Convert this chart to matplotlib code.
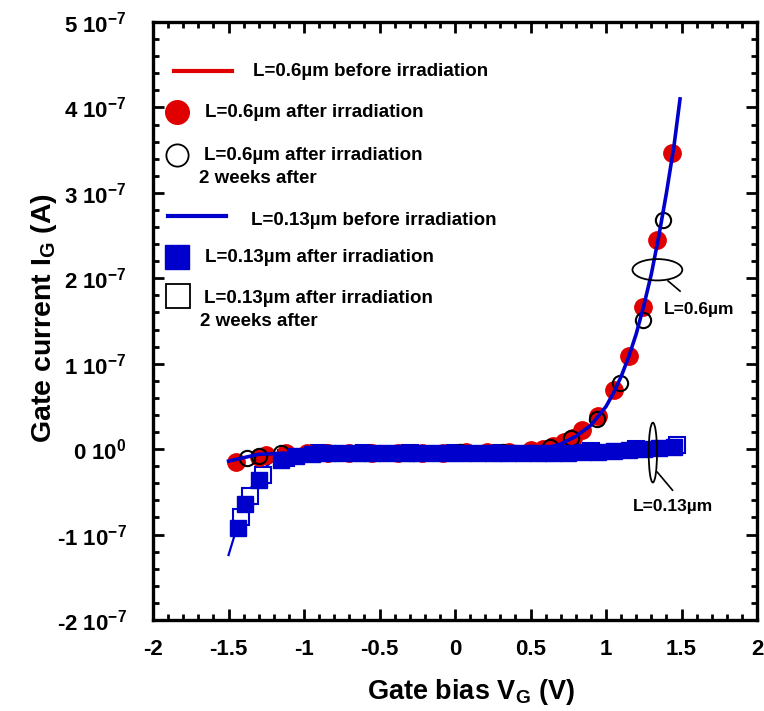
import numpy as np
import matplotlib
matplotlib.use('Agg')
from matplotlib import pyplot as plt
from matplotlib.patches import Ellipse
from matplotlib.ticker import MultipleLocator, FixedLocator, FixedFormatter

plt.rcParams['font.family'] = ['Liberation Sans', 'DejaVu Sans']
plt.rcParams['font.weight'] = 'bold'
plt.rcParams['mathtext.fontset'] = 'custom'
plt.rcParams['mathtext.rm'] = 'Liberation Sans:bold'
plt.rcParams['mathtext.bf'] = 'Liberation Sans:bold'
plt.rcParams['mathtext.default'] = 'bf'

RED = '#e00000'
BLUE = '#0000cc'
SCALE = 1e-7

# L=0.6um, curva antes da irradiacao (unidades de 1e-7 A)
v06_pre = [-1.5, -1.3, -1.0, -0.5, 0.0, 0.5, 0.6, 0.7, 0.8, 0.9, 1.0, 1.05, 1.1, 1.15,
           1.2, 1.25, 1.3, 1.35, 1.4, 1.45, 1.49]
i06_pre = [-0.14, -0.06, -0.04, -0.03, -0.03, -0.01, 0.01, 0.06, 0.15, 0.28, 0.5, 0.66,
           0.85, 1.08, 1.35, 1.68, 2.05, 2.5, 3.0, 3.55, 4.1]

# L=0.6um depois da irradiacao
v06_irr = [-1.45, -1.30, -1.25, -1.12, -0.98, -0.84, -0.70, -0.55, -0.38, -0.22, -0.08,
           0.07, 0.21, 0.36, 0.50, 0.58, 0.65, 0.72, 0.78, 0.84, 0.95, 1.05, 1.15, 1.245,
           1.34, 1.44]
i06_irr = [-0.15, -0.09, -0.07, -0.05, -0.04, -0.04, -0.04, -0.04, -0.04, -0.04, -0.04,
           -0.03, -0.03, -0.03, -0.01, 0.0, 0.04, 0.08, 0.13, 0.23, 0.39, 0.69, 1.09, 1.66,
           2.45, 3.47]

# L=0.6um, 2 semanas depois
v06_2w = [-1.38, -1.30, -1.15, -0.85, -0.56, -0.28, 0.03, 0.32, 0.63, 0.77, 0.94, 1.09,
          1.245, 1.38]
i06_2w = [-0.10, -0.08, -0.05, -0.04, -0.04, -0.04, -0.03, -0.03, 0.02, 0.13, 0.35, 0.77,
          1.51, 2.68]

# L=0.13um antes da irradiacao
v13_pre = [-1.5, -1.45, -1.4, -1.35, -1.3, -1.25, -1.2, -1.1, -1.0, -0.5, 0.0, 0.5, 1.0,
           1.5]
i13_pre = [-1.24, -0.95, -0.65, -0.45, -0.30, -0.20, -0.13, -0.07, -0.05, -0.04, -0.04,
           -0.03, -0.01, 0.03]

# L=0.13um depois da irradiacao
v13_irr = [-1.44, -1.39, -1.30, -1.15, -1.05, -0.95, -0.85, -0.75, -0.65, -0.55, -0.45,
           -0.35, -0.25, -0.15, -0.05, 0.05, 0.15, 0.25, 0.35, 0.45, 0.55, 0.65, 0.75,
           0.85, 0.95, 1.05, 1.15, 1.25, 1.35, 1.45]
i13_irr = [-0.92, -0.64, -0.36, -0.13, -0.08, -0.06, -0.05, -0.05, -0.05, -0.05, -0.05,
           -0.05, -0.05, -0.05, -0.05, -0.05, -0.05, -0.05, -0.05, -0.05, -0.05, -0.04,
           -0.04, -0.03, -0.03, -0.02, -0.01, 0.0, 0.01, 0.02]

# L=0.13um, 2 semanas depois (com barras de erro)
v13_2w = [-1.42, -1.36, -1.27, -1.12, -0.90, -0.60, -0.30, 0.0, 0.30, 0.60, 0.90, 1.20,
          1.47]
i13_2w = [-0.80, -0.55, -0.30, -0.10, -0.05, -0.05, -0.05, -0.05, -0.05, -0.04, -0.02,
          0.0, 0.05]
e13_2w = [0.08, 0.08, 0.08, 0.06, 0.06, 0.06, 0.06, 0.06, 0.06, 0.06, 0.06, 0.06, 0.08]

y_ticks = [-2, -1, 0, 1, 2, 3, 4, 5]
y_labels = ['-2 10$^{-7}$', '-1 10$^{-7}$', '0 10$^{0}$', '1 10$^{-7}$', '2 10$^{-7}$',
            '3 10$^{-7}$', '4 10$^{-7}$', '5 10$^{-7}$']
x_ticks = [-2, -1.5, -1, -0.5, 0, 0.5, 1, 1.5, 2]
x_labels = ['-2', '-1.5', '-1', '-0.5', '0', '0.5', '1', '1.5', '2']


def a(lst):
    return np.array(lst) * SCALE


fig = plt.figure(figsize=(7.64, 7.11), dpi=100)
ax = fig.add_axes([0.2003, 0.128, 0.7906, 0.841])

ax.plot(v13_pre, a(i13_pre), color=BLUE, lw=1.6, zorder=2)
ax.errorbar(v13_2w, a(i13_2w), yerr=a(e13_2w), fmt='s', ms=12, mfc='white', mec=BLUE,
            mew=1.5, ecolor=BLUE, elinewidth=1.3, capsize=5, capthick=1.3, zorder=3)
ax.plot(v06_irr, a(i06_irr), 'o', ms=12.5, color=RED, mec=RED, zorder=4)
ax.plot(v06_2w, a(i06_2w), 'o', ms=11, mfc='none', mec='black', mew=1.5, zorder=5)
ax.plot(v13_irr, a(i13_irr), 's', ms=12, color=BLUE, mec=BLUE, zorder=6)
ax.plot(v06_pre, a(i06_pre), color=BLUE, lw=2.6, zorder=7)

ax.set_xlim(-2, 2)
ax.set_ylim(-2 * SCALE, 5 * SCALE)

ax.xaxis.set_major_locator(FixedLocator(x_ticks))
ax.xaxis.set_major_formatter(FixedFormatter(x_labels))
ax.xaxis.set_minor_locator(MultipleLocator(0.1))
ax.yaxis.set_major_locator(FixedLocator([t * SCALE for t in y_ticks]))
ax.yaxis.set_major_formatter(FixedFormatter(y_labels))
ax.yaxis.set_minor_locator(MultipleLocator(0.2 * SCALE))

ax.tick_params(which='both', direction='in', top=True, right=True, width=2)
ax.tick_params(which='major', length=8, labelsize=16)
ax.tick_params(axis='x', which='major', pad=14)
ax.tick_params(axis='y', which='major', pad=19)
ax.tick_params(which='minor', length=4)
for lab in ax.get_xticklabels() + ax.get_yticklabels():
    lab.set_fontweight('bold')
for sp in ax.spines.values():
    sp.set_linewidth(2.4)

ax.set_xlabel('Gate bias V$_{G}$ (V)', fontsize=19.5, fontweight='bold')
ax.set_ylabel('Gate current I$_{G}$ (A)', fontsize=20.5, fontweight='bold')
ax.xaxis.set_label_coords(0.526, -0.095)
ax.yaxis.set_label_coords(-0.155, 0.505)

# elipses indicando cada comprimento de canal
ax.add_patch(Ellipse((1.34, 2.10 * SCALE), 0.33, 0.25 * SCALE, fill=False, ec='black',
                     lw=1.3, zorder=8))
ax.plot([1.41, 1.49], [1.97 * SCALE, 1.85 * SCALE], color='black', lw=1.2, zorder=8)
ax.text(1.38, 1.64 * SCALE, 'L=0.6µm', fontsize=12.5, fontweight='bold', va='center')

ax.add_patch(Ellipse((1.31, -0.04 * SCALE), 0.055, 0.70 * SCALE, fill=False, ec='black',
                     lw=1.3, zorder=8))
ax.plot([1.34, 1.44], [-0.27 * SCALE, -0.48 * SCALE], color='black', lw=1.2, zorder=8)
ax.text(1.18, -0.67 * SCALE, 'L=0.13µm', fontsize=12.5, fontweight='bold', va='center')

# legenda desenhada a mao
def px(x, y):
    return ((x - 153) / 604, (620 - y) / 598)

tr = ax.transAxes
fs = 13.5
x0, y0 = px(174, 71); x1, _ = px(232, 71)
ax.plot([x0, x1], [y0, y0], color=RED, lw=3, transform=tr)
ax.text(*px(253, 71), 'L=0.6µm before irradiation', transform=tr, fontsize=fs, va='center')

ax.plot(*px(177, 112), 'o', ms=17, color=RED, transform=tr)
ax.text(*px(205, 112), 'L=0.6µm after irradiation', transform=tr, fontsize=fs, va='center')

ax.plot(*px(177, 155), 'o', ms=16, mfc='white', mec='black', mew=1.3, transform=tr)
ax.text(*px(204, 155), 'L=0.6µm after irradiation', transform=tr, fontsize=fs, va='center')
ax.text(*px(199, 178), '2 weeks after', transform=tr, fontsize=fs, va='center')

x0, y0 = px(168, 216); x1, _ = px(226, 216)
ax.plot([x0, x1], [y0, y0], color=BLUE, lw=3, transform=tr)
ax.text(*px(251, 220), 'L=0.13µm before irradiation', transform=tr, fontsize=fs, va='center')

ax.plot(*px(177, 257), 's', ms=17, color=BLUE, transform=tr)
ax.text(*px(205, 257), 'L=0.13µm after irradiation', transform=tr, fontsize=fs, va='center')

ax.plot(*px(178, 296), 's', ms=17, mfc='white', mec='black', mew=1.3, transform=tr)
ax.text(*px(204, 298), 'L=0.13µm after irradiation', transform=tr, fontsize=fs, va='center')
ax.text(*px(200, 321), '2 weeks after', transform=tr, fontsize=fs, va='center')

fig.savefig('out.png', dpi=100)
